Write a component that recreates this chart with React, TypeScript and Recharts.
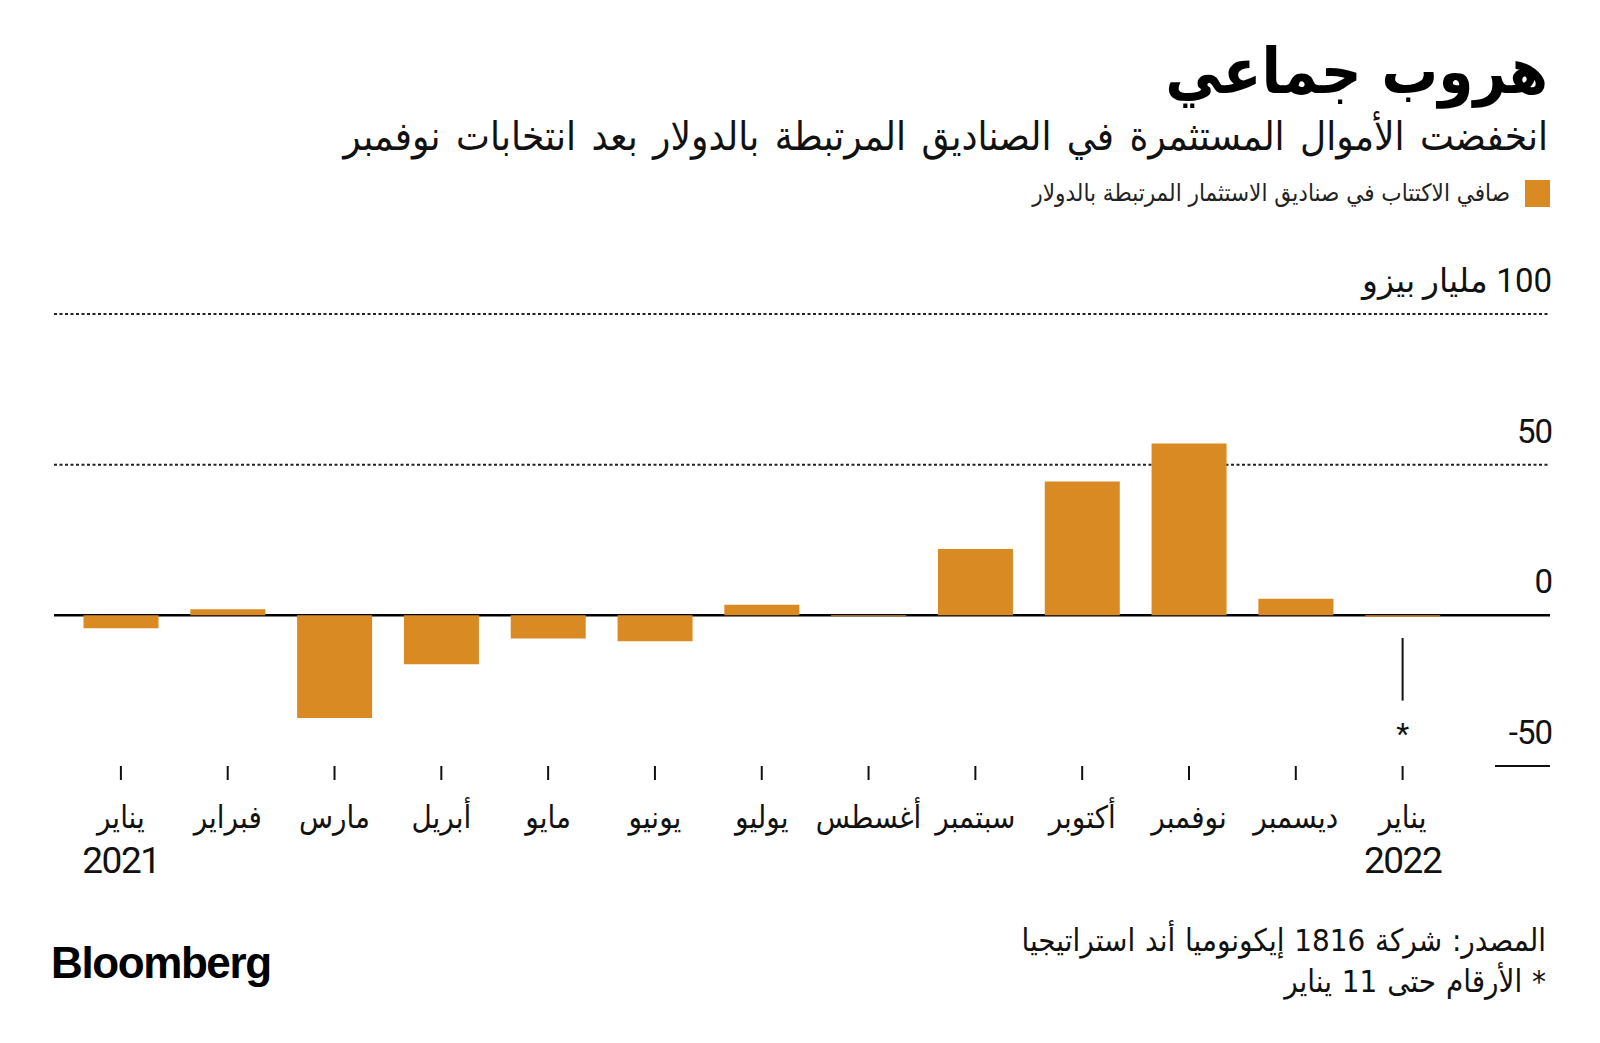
import React from "react";
import {
  BarChart,
  Bar,
  XAxis,
  YAxis,
  CartesianGrid,
  ReferenceLine,
  ReferenceDot,
} from "recharts";

// months, oldest on the left
const months = [
  "2021-01", "2021-02", "2021-03", "2021-04", "2021-05", "2021-06", "2021-07",
  "2021-08", "2021-09", "2021-10", "2021-11", "2021-12", "2022-01",
];
const monthNames = [
  "يناير", "فبراير", "مارس", "أبريل", "مايو", "يونيو", "يوليو",
  "أغسطس", "سبتمبر", "أكتوبر", "نوفمبر", "ديسمبر", "يناير",
];
const yearNames = ["2021", "", "", "", "", "", "", "", "", "", "", "", "2022"];

// net subscriptions, billion pesos
const flows = [-4.3, 2.0, -34.1, -16.2, -7.7, -8.6, 3.5, -0.3, 22.0, 44.4, 57.0, 5.5, -0.5];

const yTicks = [-50, 0, 50, 100];
const dottedValues = [50, 100];

// the "*" note hanging under January 2022
const noteMonth = "2022-01";
const noteLineFrom = -7.5;
const noteLineTo = -28.3;
const noteStarAt = -39;

const ORANGE = "#D98A23";
const AR_FONT = '"DejaVu Sans Condensed", "DejaVu Sans", sans-serif';
const NUM_FONT = 'Roboto, "Liberation Sans", sans-serif';

const data = months.map((m, i) => ({ month: m, flow: flows[i] }));

const MonthTick = (props: any) => {
  const { x, y, index } = props;
  return (
    <g>
      <text
        x={x}
        y={y + 48}
        textAnchor="middle"
        fontFamily={AR_FONT}
        fontSize={31}
        fill="#111"
      >
        {monthNames[index]}
      </text>
      {yearNames[index] && (
        <text
          x={x}
          y={y + 93}
          textAnchor="middle"
          fontFamily={NUM_FONT}
          fontSize={37}
          letterSpacing={-1.5}
          fill="#111"
        >
          {yearNames[index]}
        </text>
      )}
    </g>
  );
};

const ValueTick = (props: any) => {
  const { x, y, payload } = props;
  const v = payload.value;
  const label = v === 100 ? "\u2067100 مليار بيزو\u2069" : String(v);
  return (
    <g>
      <text
        x={x + 2}
        y={y - 22}
        textAnchor="end"
        fontFamily={NUM_FONT}
        fontSize={33}
        letterSpacing={-1}
        fill="#111"
      >
        {label}
      </text>
      {v === -50 && <line x1={x - 55} x2={x} y1={y} y2={y} stroke="#111" strokeWidth={2} />}
    </g>
  );
};

export default function App() {
  return (
    <div
      style={{
        position: "absolute",
        left: 0,
        top: 0,
        width: 1600,
        height: 1043,
        background: "#fff",
        overflow: "hidden",
      }}
    >
      {/* Title block */}
      <div
        dir="rtl"
        style={{
          position: "absolute",
          right: 52,
          top: 36,
          fontFamily: AR_FONT,
          fontWeight: 700,
          fontSize: 63,
          lineHeight: "72px",
          color: "#000",
          whiteSpace: "nowrap",
        }}
      >
        هروب جماعي
      </div>
      <div
        dir="rtl"
        style={{
          position: "absolute",
          right: 52,
          top: 112,
          fontFamily: AR_FONT,
          fontSize: 40,
          wordSpacing: 4,
          lineHeight: "48px",
          color: "#111",
          whiteSpace: "nowrap",
        }}
      >
        انخفضت الأموال المستثمرة في الصناديق المرتبطة بالدولار بعد انتخابات نوفمبر
      </div>

      {/* Legend */}
      <div
        style={{
          position: "absolute",
          left: 1525,
          top: 180,
          width: 25,
          height: 27,
          background: ORANGE,
        }}
      />
      <div
        dir="rtl"
        style={{
          position: "absolute",
          right: 90,
          top: 177,
          fontFamily: AR_FONT,
          fontSize: 24,
          lineHeight: "32px",
          color: "#222",
          whiteSpace: "nowrap",
        }}
      >
        صافي الاكتتاب في صناديق الاستثمار المرتبطة بالدولار
      </div>

      {/* Chart */}
      <div style={{ position: "absolute", left: 0, top: 0 }}>
        <BarChart
          width={1600}
          height={900}
          data={data}
          margin={{ top: 314, right: 49, bottom: 14, left: 54 }}
        >
          <CartesianGrid
            vertical={false}
            horizontalValues={dottedValues}
            stroke="#222"
            strokeWidth={2}
            strokeDasharray="3 2.5"
          />
          <CartesianGrid
            vertical={false}
            horizontalValues={[0]}
            stroke="#000"
            strokeWidth={2.5}
          />
          <XAxis
            dataKey="month"
            height={120}
            padding={{ left: 13.5, right: 94 }}
            axisLine={false}
            tickSize={14}
            tickMargin={0}
            tickLine={{ stroke: "#111", strokeWidth: 2 }}
            interval={0}
            tick={<MonthTick />}
          />
          <YAxis
            orientation="right"
            width={1}
            domain={[-50, 100]}
            ticks={yTicks}
            axisLine={false}
            tickLine={false}
            tickSize={0}
            tickMargin={0}
            tick={<ValueTick />}
          />
          <Bar dataKey="flow" fill={ORANGE} barSize={75} isAnimationActive={false} />
          <ReferenceLine
            segment={[
              { x: noteMonth, y: noteLineFrom },
              { x: noteMonth, y: noteLineTo },
            ]}
            stroke="#111"
            strokeWidth={2}
          />
          <ReferenceDot
            x={noteMonth}
            y={noteStarAt}
            r={0}
            fill="none"
            stroke="none"
            label={{ value: "*", position: "center", fontSize: 30, fill: "#111", fontFamily: NUM_FONT }}
          />
        </BarChart>
      </div>

      {/* Footer */}
      <div
        style={{
          position: "absolute",
          left: 51,
          top: 938,
          fontFamily: '"Liberation Sans", Arial, sans-serif',
          fontWeight: 700,
          fontSize: 44,
          letterSpacing: -1.4,
          lineHeight: "50px",
          color: "#000",
        }}
      >
        Bloomberg
      </div>
      <div
        dir="rtl"
        style={{
          position: "absolute",
          right: 54,
          top: 920,
          fontFamily: AR_FONT,
          fontSize: 31,
          wordSpacing: 1,
          lineHeight: "41px",
          color: "#111",
          whiteSpace: "nowrap",
        }}
      >
        <div>المصدر: شركة 1816 إيكونوميا أند استراتيجيا</div>
        <div>* الأرقام حتى 11 يناير</div>
      </div>
    </div>
  );
}
